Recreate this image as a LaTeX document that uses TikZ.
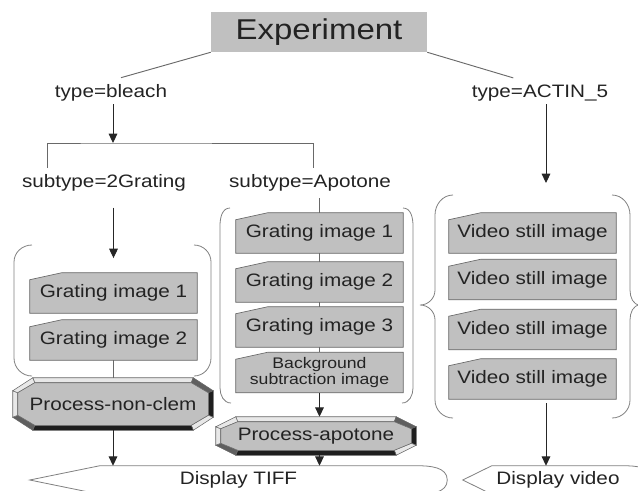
\documentclass[tikz,border=0pt]{standalone}
\usepackage{fontspec}
\setmainfont[FakeStretch=1.15]{Liberation Sans}
\usetikzlibrary{arrows.meta,calc,backgrounds}

\definecolor{boxgray}{RGB}{192,192,192}
\definecolor{edgegray}{RGB}{105,105,105}
\definecolor{txtgray}{RGB}{35,35,35}
\definecolor{bvlite}{RGB}{232,232,232}
\definecolor{bvmid}{RGB}{95,95,95}
\definecolor{bvdark}{RGB}{30,30,30}

\newcommand{\lblfont}{\fontsize{13.5}{15}\selectfont}
\newcommand{\expfont}{\fontsize{21.5}{24}\selectfont}
\newcommand{\bgfont}{\fontsize{11.5}{11.5}\selectfont}

\tikzset{
  lbl/.style={font=\lblfont, text=txtgray, inner sep=2pt},
  docbox/.style={font=\lblfont, text=txtgray, minimum width=125.25pt, minimum height=30pt, inner sep=0pt, align=center},
  docshape/.style={fill=boxgray, draw=edgegray, line width=0.5pt},
  btnbox/.style={font=\lblfont, text=txtgray, minimum width=150pt, inner sep=0pt},
  dispbox/.style={font=\lblfont, text=txtgray, minimum height=21pt, inner sep=0pt},
  link/.style={draw=edgegray, line width=0.7pt},
  brk/.style={draw=gray, line width=0.6pt},
  arr/.style={draw=black!85, line width=0.7pt, -{Triangle[length=7pt,width=6.5pt]}}
}

\begin{document}
\begin{tikzpicture}[x=0.75pt, y=-0.75pt]
	\path[use as bounding box] (0,0) rectangle (638,490);

	% Top of the tree
	\node[fill=boxgray, minimum width=162pt, minimum height=30pt, font=\expfont, text=txtgray] (exp) at (319,32) {Experiment};
	\node[lbl] (typeb) at (111,93) {type=bleach};
	\node[lbl] (typea) at (540,93) {type=ACTIN\_5};
	\node[lbl] (sub2g) at (104,183) {subtype=2Grating};
	\node[lbl] (subapo) at (310,183) {subtype=Apotone};

	% Grating images, 2Grating
	\node[docbox] (lg1) at (113.5,293) {Grating image 1};
	\node[docbox] (lg2) at (113.5,340) {Grating image 2};

	% Grating images, Apotone
	\node[docbox] (mg1) at (319.5,233) {Grating image 1};
	\node[docbox] (mg2) at (319.5,282) {Grating image 2};
	\node[docbox] (mg3) at (319.5,327) {Grating image 3};
	\node[docbox, font=\bgfont] (mbg) at (319.5,372.5) {Background\\subtraction image};

	% Video stills
	\node[docbox] (vs1) at (532.5,233) {Video still image};
	\node[docbox] (vs2) at (532.5,279.5) {Video still image};
	\node[docbox] (vs3) at (532.5,329.5) {Video still image};
	\node[docbox] (vs4) at (532.5,379) {Video still image};

	% Processing
	\node[btnbox, minimum height=39pt] (pnc) at (113,404) {Process-non-clem};
	\node[btnbox, minimum height=28.5pt] (papo) at (316,436) {Process-apotone};

	% Display
	\node[dispbox, minimum width=312.75pt] (dtiff) at (238.5,480) {Display TIFF};
	\node[dispbox, minimum width=142.5pt] (dvideo) at (558,480) {Display video};

	\coordinate (split) at (113,143);
	\coordinate (brl) at (47,168);
	\coordinate (brr) at (313,168);
	\coordinate (vin) at (546,183);
	\coordinate (vout) at (546,403);

	\begin{scope}[on background layer]
		\foreach \n in {lg1,lg2,mg1,mg2,mg3,mbg,vs1,vs2,vs3,vs4}
			\draw[docshape] (\n.south west) -- ($(\n.north west)+(0,7)$) -- ($(\n.north west)+(32,0)$) -- (\n.north east) -- (\n.south east) -- cycle;

		% bevelled buttons
		\foreach \n/\c/\d in {pnc/20/13,papo/20/10}{
			\coordinate (\n A) at ($(\n.north west)+(\c,0)$);
			\coordinate (\n B) at ($(\n.north east)+(-\c,0)$);
			\coordinate (\n C) at ($(\n.north east)+(0,\d)$);
			\coordinate (\n D) at ($(\n.south east)+(0,-\d)$);
			\coordinate (\n E) at ($(\n.south east)+(-\c,0)$);
			\coordinate (\n F) at ($(\n.south west)+(\c,0)$);
			\coordinate (\n G) at ($(\n.south west)+(0,-\d)$);
			\coordinate (\n H) at ($(\n.north west)+(0,\d)$);
			\coordinate (\n Ai) at ($(\n.north west)+(\c+2,5)$);
			\coordinate (\n Bi) at ($(\n.north east)+(-\c-2,5)$);
			\coordinate (\n Ci) at ($(\n.north east)+(-5,\d+2)$);
			\coordinate (\n Di) at ($(\n.south east)+(-5,-\d-2)$);
			\coordinate (\n Ei) at ($(\n.south east)+(-\c-2,-5)$);
			\coordinate (\n Fi) at ($(\n.south west)+(\c+2,-5)$);
			\coordinate (\n Gi) at ($(\n.south west)+(5,-\d-2)$);
			\coordinate (\n Hi) at ($(\n.north west)+(5,\d+2)$);
			\foreach \p/\q/\f in {A/B/bvlite,B/C/bvmid,C/D/bvdark,D/E/bvlite,E/F/bvdark,F/G/bvmid,G/H/bvlite,H/A/bvlite}
				\filldraw[draw=edgegray, fill=\f, line width=0.4pt] (\n\p) -- (\n\q) -- (\n\q i) -- (\n\p i) -- cycle;
			\filldraw[fill=boxgray, draw=edgegray, line width=0.4pt] (\n Ai) -- (\n Bi) -- (\n Ci) -- (\n Di) -- (\n Ei) -- (\n Fi) -- (\n Gi) -- (\n Hi) -- cycle;
		}

		% display shapes
		\foreach \n/\t in {dtiff/70,dvideo/29}
			\draw[brk, fill=white] (\n.west) -- ($(\n.north west)+(\t,0)$) -- ($(\n.north east)+(-30,0)$) to[out=0,in=90] (\n.east) to[out=-90,in=0] ($(\n.south east)+(-30,0)$) -- ($(\n.south west)+(\t,0)$) -- cycle;
	\end{scope}

	% brackets round the groups
	\draw[brk] (32,245) to[out=180,in=90] (14,262) -- (14,358) to[out=-90,in=180] (32,376);
	\draw[brk] (194,245) to[out=0,in=90] (211,262) -- (211,358) to[out=-90,in=0] (194,376);
	\draw[brk] (230,208) to[out=180,in=90] (220,226) -- (220,388) to[out=-90,in=180] (231,403);
	\draw[brk] (403,208) to[out=0,in=90] (413,226) -- (413,388) to[out=-90,in=0] (402,403);
	\draw[brk] (453,195) to[out=180,in=90] (435,215) -- (435,290) to[out=-90,in=0] (420,305) to[out=0,in=90] (435,320) -- (435,400) to[out=-90,in=180] (453,418);
	\draw[brk] (612,195) to[out=0,in=90] (630,215) -- (630,290) to[out=-90,in=180] (640,305) to[out=180,in=90] (630,320) -- (630,400) to[out=-90,in=0] (612,418);

	% connectors
	\draw[link] (exp.south west) -- ([xshift=7.5pt,yshift=3pt]typeb.north);
	\draw[link] (exp.south east) -- ([xshift=-20pt,yshift=3pt]typea.north);
	\draw[arr] (typeb.south -| split) -- (split);
	\draw[link] (brl) |- (split) -| (brr);
	\draw[arr, shorten <=10pt] (sub2g.south -| lg1.north) -- ([yshift=11pt]lg1.north);
	\draw[link] (lg2.south) -- (lg2.south |- pnc.north);
	\draw[link, shorten <=3pt] (subapo.south -| mg1.north) -- (mg1.north);
	\draw[link] (mg1.south) -- (mg2.north);
	\draw[link] (mg2.south) -- (mg3.north);
	\draw[link] (mg3.south) -- (mbg.north);
	\draw[arr] (mbg.south) -- (mbg.south |- papo.north);
	\draw[arr] (mbg.south |- papo.south) -- (mbg.south |- dtiff.north);
	\draw[arr] (pnc.south) -- (pnc.south |- dtiff.north);
	\draw[arr] (typea.south -| vin) -- (vin);
	\draw[arr] (vout) -- (vout |- dvideo.north);
\end{tikzpicture}
\end{document}
